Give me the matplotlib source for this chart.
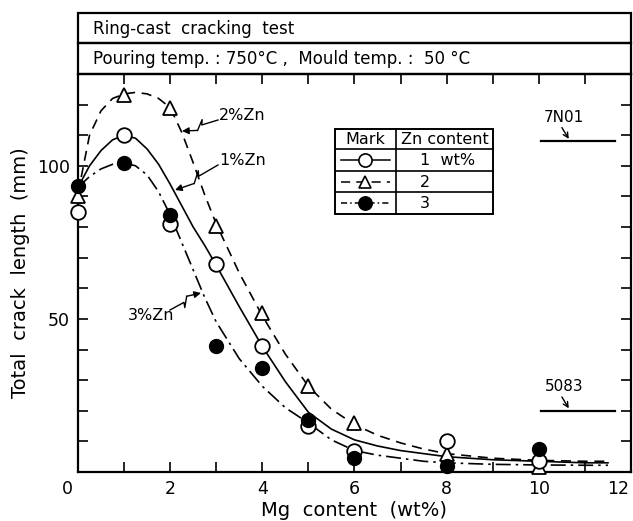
import numpy as np
import matplotlib
matplotlib.use('Agg')
import matplotlib.pyplot as plt
from matplotlib.patches import Rectangle, FancyArrowPatch
from matplotlib.lines import Line2D
from matplotlib.transforms import ScaledTranslation

# measured points (Mg content in wt%, total crack length in mm)
mg = [0, 1, 2, 3, 4, 5, 6, 8, 10]
crack_zn1 = [85, 110, 81, 68, 41, 15, 7, 10, 3.5]
crack_zn2 = [90, 123, 119, 80.5, 52, 28, 16, 6, 1.5]
crack_zn3 = [93.5, 101, 84, 41, 34, 17, 4.5, 2, 7.5]

# hand-drawn trend curves
curve_x = [0, 0.25, 0.5, 0.75, 1, 1.25, 1.5, 1.75, 2, 2.25, 2.5, 2.75, 3, 3.5, 4,
           4.5, 5, 5.5, 6, 6.5, 7, 7.5, 8, 9, 10, 11, 11.5]
curve_zn1 = [93, 100, 105, 108.5, 110, 109, 105.5, 100.5, 94, 87, 80, 74, 67.5, 54, 41,
             29.5, 19.5, 14, 10.5, 8.5, 7, 6, 5, 4, 3.5, 3, 3]
curve_zn2 = [91, 110, 118, 122, 123.5, 124, 123.5, 122, 119, 111, 101, 90.5, 81, 65, 51,
             38.5, 28, 20.5, 15.5, 12, 9.5, 7.5, 6, 4.5, 3.8, 3.5, 3.5]
curve_zn3 = [93, 96.5, 99, 100.5, 101, 100, 97, 91.5, 84, 75, 66, 57, 49, 37, 28,
             21, 16, 10.5, 7, 5.5, 4.5, 3.5, 3, 2.5, 2.3, 2.2, 2.2]

# reference alloys
ref_names = ['7N01', '5083']
ref_values = [108, 20]
ref_range = [10.05, 11.65]

W, H = 633, 521
fig = plt.figure(figsize=(W / 100, H / 100), dpi=100)
L, R, B, T = 78, 631, 472, 74
ax = fig.add_axes([L / W, 1 - B / H, (R - L) / W, (B - T) / H])


def px(x, y):
    # pixel position (from top-left) to figure fraction
    return (x / W, 1 - y / H)


dash = (0, (6, 4))
dashdot = (0, (9, 3, 1.5, 3))
lw = 1.2
ax.plot(curve_x, curve_zn1, color='black', lw=lw, ls='-')
ax.plot(curve_x, curve_zn2, color='black', lw=lw, ls=dash)
ax.plot(curve_x, curve_zn3, color='black', lw=lw, ls=dashdot)

ax.plot(mg, crack_zn1, 'o', ms=10.5, mfc='white', mec='black', mew=1.3, ls='none', clip_on=False, zorder=4)
ax.plot(mg, crack_zn2, '^', ms=10.5, mfc='white', mec='black', mew=1.3, ls='none', clip_on=False, zorder=3)
ax.plot(mg, crack_zn3, 'o', ms=10, mfc='black', mec='black', ls='none', clip_on=False, zorder=5)

# reference lines
for name, val in zip(ref_names, ref_values):
    ax.plot(ref_range, [val, val], color='black', lw=1.6)
    ax.annotate('', xy=(10.65, val + 0.8), xytext=(10.5, val + 4.5),
                arrowprops=dict(arrowstyle='->', lw=1.0, color='black',
                                shrinkA=0, shrinkB=0, mutation_scale=9))
    ax.text(10.55, val + 5.5, name, fontsize=11, ha='center', va='bottom')

ax.set_xlim(0, 12)
ax.set_ylim(0, 130)
ax.set_xticks(np.arange(0, 13, 1))
ax.set_xticklabels(['0', '', '2', '', '4', '', '6', '', '8', '', '10', '', '12'])
ax.set_yticks(np.arange(0, 131, 10))
ax.set_yticklabels(['' if v not in (50, 100) else str(v) for v in range(0, 131, 10)])
ax.tick_params(direction='in', length=7, width=1.2, top=True, right=True,
               labelsize=12.5, pad=6)
for s in ax.spines.values():
    s.set_linewidth(1.6)

# first and last x labels sit off their ticks in the original
xlabs = ax.get_xticklabels()
xlabs[0].set_transform(xlabs[0].get_transform() + ScaledTranslation(-0.11, 0, fig.dpi_scale_trans))
xlabs[-1].set_transform(xlabs[-1].get_transform() + ScaledTranslation(-0.13, 0, fig.dpi_scale_trans))

ax.set_xlabel('Mg  content  (wt%)', fontsize=14, labelpad=2)
ax.set_ylabel('Total  crack  length  (mm)', fontsize=14, labelpad=5)

# header boxes
for y0, y1, txt in [(13, 43, 'Ring-cast  cracking  test'),
                    (43, 74, 'Pouring temp. : 750°C ,  Mould temp. :  50 °C')]:
    fig.add_artist(Rectangle(px(L, y1), (R - L) / W, (y1 - y0) / H, transform=fig.transFigure,
                             fill=False, lw=1.6, ec='black'))
    fig.text(*px(93, (y0 + y1) / 2 + 1), txt, fontsize=12, va='center', ha='left')

# legend table
tx0, tx1, tcol = 335, 493, 396
rows = [129, 149, 171, 192, 214]
fig.add_artist(Rectangle(px(tx0, rows[-1]), (tx1 - tx0) / W, (rows[-1] - rows[0]) / H,
                         transform=fig.transFigure, fill=False, lw=1.4, ec='black'))
for yr in rows[1:-1]:
    fig.add_artist(Line2D([tx0 / W, tx1 / W], [1 - yr / H] * 2, transform=fig.transFigure,
                          color='black', lw=1.2))
fig.add_artist(Line2D([tcol / W] * 2, [1 - rows[0] / H, 1 - rows[-1] / H],
                      transform=fig.transFigure, color='black', lw=1.2))
fig.text(*px((tx0 + tcol) / 2, (rows[0] + rows[1]) / 2 + 1), 'Mark', fontsize=11.5, ha='center', va='center')
fig.text(*px(tcol + 5, (rows[0] + rows[1]) / 2 + 1), 'Zn content', fontsize=11.5, ha='left', va='center')
legend_styles = [('-', 'o', 'white'), (dash, '^', 'white'), (dashdot, 'o', 'black')]
legend_labels = ['1  wt%', '2', '3']
for i, ((ls, mk, fc), lab) in enumerate(zip(legend_styles, legend_labels)):
    yc = (rows[i + 1] + rows[i + 2]) / 2
    fx, fy = px(341, yc)
    fx2, _ = px(390, yc)
    fig.add_artist(Line2D([fx, fx2], [fy, fy], transform=fig.transFigure, color='black',
                          lw=1.1, ls=ls if ls != dashdot else (0, (4, 2, 1, 2))))
    fig.add_artist(Line2D([(fx + fx2) / 2], [fy], transform=fig.transFigure, marker=mk,
                          ms=9 if mk == '^' else 9.5, mfc=fc, mec='black', mew=1.2, ls='none'))
    fig.text(*px(420, yc + 1), lab, fontsize=11.5, ha='left', va='center')


# curve labels with broken leader lines
def leader(tpos, tip):
    sx, sy = tpos
    ex, ey = tip
    dx, dy = ex - sx, ey - sy
    ln = np.hypot(dx, dy)
    ux, uy = dx / ln, dy / ln
    nx, ny = -uy, ux
    p1 = (sx + 0.45 * dx, sy + 0.45 * dy)
    p2 = (sx + 0.40 * dx + 5 * nx, sy + 0.40 * dy + 5 * ny)
    p3 = (sx + 0.60 * dx - 4 * nx, sy + 0.60 * dy - 4 * ny)
    xs = [sx, p1[0], p2[0], p3[0]]
    ys = [sy, p1[1], p2[1], p3[1]]
    fig.add_artist(Line2D([x / W for x in xs], [1 - y / H for y in ys],
                          transform=fig.transFigure, color='black', lw=1.0))
    fig.add_artist(FancyArrowPatch(px(*p3), px(ex, ey), transform=fig.transFigure,
                                   arrowstyle='-|>', mutation_scale=10, lw=1.0,
                                   color='black', shrinkA=0, shrinkB=0))


fig.text(*px(219, 116), '2%Zn', fontsize=11.5, ha='left', va='center')
leader((218, 120), (182, 131))
fig.text(*px(219, 161), '1%Zn', fontsize=11.5, ha='left', va='center')
leader((218, 165), (175, 190))
fig.text(*px(128, 315), '3%Zn', fontsize=11.5, ha='left', va='center')
leader((170, 310), (201, 293))

fig.savefig('out.png', dpi=100)
